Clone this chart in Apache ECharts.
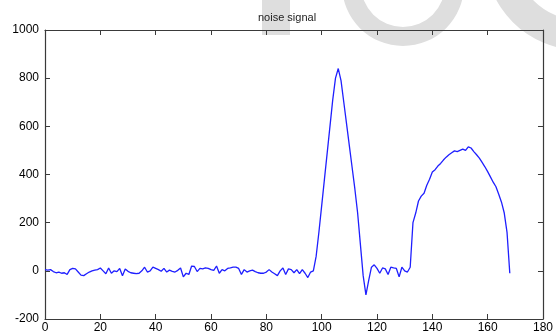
<!DOCTYPE html>
<html>
<head>
<meta charset="UTF-8">
<title>noise signal</title>
<style>
  html, body { margin: 0; padding: 0; background: #fff; }
  #main { width: 556px; height: 334px; }
</style>
</head>
<body>
<div id="main"></div>
<script src="https://cdn.jsdelivr.net/npm/echarts@6/dist/echarts.min.js"></script>
<script>
// signal value at sample 0,1,2,...
var signal = [
  5, 3, 5, -3, -8, -5, -10, -8, -15, 5,
  10, 8, -5, -18, -20, -12, -5, 0, 3, 5,
  12, 0, -12, 12, -10, 0, -3, 10, -20, 8,
  -2, -8, -10, -12, -10, 0, 15, -5, 0, 15,
  10, 5, -2, 10, -5, 3, -2, -5, 2, 12,
  -25, -10, -15, 20, 18, -3, 10, 8, 12, 10,
  5, 2, 20, -10, 5, 0, 10, 12, 15, 15,
  10, -15, 5, -5, 0, 3, -3, -8, -10, -10,
  -5, 5, -5, -12, -20, 0, 12, -15, 8, 5,
  -8, 5, -12, 5, -10, -28, -5, 0, 60, 160,
  270, 380, 490, 600, 710, 800, 840, 790, 700, 610,
  520, 430, 340, 240, 110, -20, -100, -40, 15, 25,
  10, -10, 12, 8, -15, 15, 12, 10, -25, 15,
  0, -5, 15, 200, 240, 290, 310, 322, 355, 380,
  410, 420, 435, 446, 460, 472, 482, 490, 498, 495,
  500, 505, 500, 515, 510, 495, 482, 468, 450, 432,
  412, 390, 368, 349, 318, 285, 240, 160, -10
];
var xTicks = [0, 180, 20];
var yTicks = [-200, 1000, 200];
var titleText = 'noise signal';

var points = signal.map(function (v, i) { return [i, v]; });

var axisCol = '#3a3a3a';
var font = 'Liberation Sans, Arial, sans-serif';

function axisX(pos, labels) {
  return {
    type: 'value', position: pos, z: 10,
    min: xTicks[0], max: xTicks[1], interval: xTicks[2],
    axisLine: { show: true, onZero: false, lineStyle: { color: axisCol, width: 1.2 } },
    axisTick: { show: true, inside: true, length: 5, lineStyle: { color: axisCol } },
    axisLabel: { show: labels, color: '#000', fontSize: 12, fontFamily: font, margin: 3,
      formatter: function (v) { return String(v); } },
    splitLine: { show: false }
  };
}
function axisY(pos, labels) {
  return {
    type: 'value', position: pos, z: 10,
    min: yTicks[0], max: yTicks[1], interval: yTicks[2],
    axisLine: { show: true, onZero: false, lineStyle: { color: axisCol, width: 1.2 } },
    axisTick: { show: true, inside: true, length: 5, lineStyle: { color: axisCol } },
    axisLabel: { show: labels, color: '#000', fontSize: 12, fontFamily: font, margin: 6,
      formatter: function (v) { return String(v); } },
    splitLine: { show: false }
  };
}

var myChart = echarts.init(document.getElementById('main'));
myChart.setOption({
  animation: false,
  backgroundColor: '#fff',
  title: {
    text: titleText, left: 253, top: 7, z: 10,
    textStyle: { color: '#222', fontSize: 11, fontWeight: 'normal', fontFamily: font }
  },
  // grey watermark behind the plot
  graphic: [
    { type: 'rect', z: -10, silent: true, shape: { x: 262, y: 0, width: 28, height: 35 }, style: { fill: '#dedede' } },
    { type: 'ring', z: -10, silent: true, shape: { cx: 403, cy: -15, r: 61, r0: 42 }, style: { fill: '#dedede' } },
    { type: 'ring', z: -10, silent: true, shape: { cx: 580, cy: -45, r: 95, r0: 65 }, style: { fill: '#dedede' } }
  ],
  grid: { left: 45, right: 10, top: 30, bottom: 14 },
  xAxis: [axisX('bottom', true), axisX('top', false)],
  yAxis: [axisY('left', true), axisY('right', false)],
  series: [{
    type: 'line', z: 11,
    xAxisIndex: 0, yAxisIndex: 0,
    data: points,
    showSymbol: false,
    lineStyle: { color: '#1f1fff', width: 1.3 }
  }]
});
</script>
</body>
</html>
